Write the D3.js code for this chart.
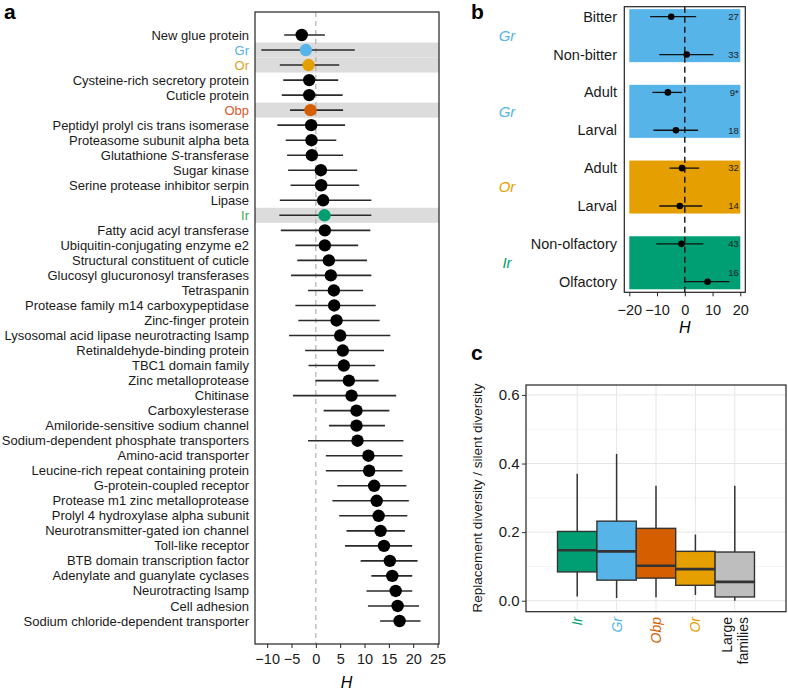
<!DOCTYPE html>
<html><head><meta charset="utf-8">
<script src="https://cdn.jsdelivr.net/npm/d3@7"></script>
<style>
body{margin:0;background:#fff}
text{font-family:"Liberation Sans",Arial,Helvetica,sans-serif}
</style>
</head><body>
<svg id="chart" width="788" height="692"></svg>
<script>
// ---------- Data: panel a ----------
const aLabels = ["New glue protein","Gr","Or","Cysteine-rich secretory protein","Cuticle protein","Obp",
 "Peptidyl prolyl cis trans isomerase","Proteasome subunit alpha beta","Glutathione S-transferase","Sugar kinase",
 "Serine protease inhibitor serpin","Lipase","Ir","Fatty acid acyl transferase","Ubiquitin-conjugating enzyme e2",
 "Structural constituent of cuticle","Glucosyl glucuronosyl transferases","Tetraspanin","Protease family m14 carboxypeptidase",
 "Zinc-finger protein","Lysosomal acid lipase neurotracting lsamp","Retinaldehyde-binding protein","TBC1 domain family",
 "Zinc metalloprotease","Chitinase","Carboxylesterase","Amiloride-sensitive sodium channel","Sodium-dependent phosphate transporters",
 "Amino-acid transporter","Leucine-rich repeat containing protein","G-protein-coupled receptor","Protease m1 zinc metalloprotease",
 "Prolyl 4 hydroxylase alpha subunit","Neurotransmitter-gated ion channel","Toll-like receptor","BTB domain transcription factor",
 "Adenylate and guanylate cyclases","Neurotracting lsamp","Cell adhesion","Sodium chloride-dependent transporter"];
const aH  = [-2.9,-2.05,-1.5,-1.37,-1.37,-1.1,-0.96,-0.9,-0.82,1.03,1.1,1.5,1.78,1.85,1.85,2.67,3.08,3.7,3.76,4.25,5.0,5.54,5.75,6.78,7.33,8.35,8.35,8.56,10.8,10.95,11.98,12.5,12.9,13.3,14.0,15.2,15.7,16.4,16.8,17.2];
const aLo = [-6.5,-11.2,-7.4,-6.7,-7.0,-5.3,-7.9,-6.2,-5.9,-5.7,-5.2,-7.4,-7.5,-7.2,-4.2,-3.8,-5.1,-1.6,-4.2,-3.6,-5.5,-2.2,-1.5,-0.1,-4.7,1.6,2.7,-1.6,2.05,2.05,4.4,3.4,4.8,6.3,6.0,9.2,11.4,10.4,10.7,13.2];
const aHi = [1.85,8.0,4.8,4.6,5.5,5.6,6.0,4.2,5.6,8.5,8.9,11.4,11.4,11.2,8.7,10.5,11.4,9.7,12.3,13.1,15.3,14.0,12.2,12.9,16.5,15.1,14.2,18.0,17.8,17.8,18.6,19.1,18.8,18.3,19.8,20.9,19.8,19.8,21.2,21.5];
const aTicks = [-10,-5,0,5,10,15,20,25];

// ---------- Data: panel b ----------
const bLabels = ["Bitter","Non-bitter","Adult","Larval","Adult","Larval","Non-olfactory","Olfactory"];
const bFamily = ["Gr","Gr","Gr","Gr","Or","Or","Ir","Ir"];
const bH  = [-4.9,0.7,-6.1,-3.2,-1.0,-1.8,-1.2,8.2];
const bLo = [-12.5,-9.2,-11.7,-11.3,-5.5,-9.2,-10.3,-0.25];
const bHi = [4.1,10.3,-0.9,4.8,5.2,6.3,6.7,16.1];
const bN  = ["27","33","9*","18","32","14","43","16"];
const bTicks = [-20,-10,0,10,20];

// ---------- Data: panel c ----------
const cCats = ["Ir","Gr","Obp","Or","Large families"];
const cLow  = [0.012,0.008,0.010,0.017,0.0];
const cQ1   = [0.084,0.060,0.066,0.045,0.011];
const cMed  = [0.147,0.144,0.102,0.092,0.055];
const cQ3   = [0.202,0.232,0.211,0.144,0.142];
const cHigh = [0.370,0.428,0.335,0.193,0.335];
const cTicks = [0,0.2,0.4,0.6];

const famColor = {Gr:"#56B4E9", Or:"#E69F00", Obp:"#D55E00", Ir:"#009E73", "Large families":"#BEBEBE"};
const aTextColor = {Gr:"#4FB0E6", Or:"#D9A21E", Obp:"#E0552A", Ir:"#3DAA4E"};
const fmtMinus = d => d < 0 ? "\u2212" + Math.abs(d) : String(d);

const svg = d3.select("#chart");

// ================= Panel a =================
{
  const L = 255, R = 439, T = 12, B = 644;
  const x = d3.scaleLinear().domain([-12.5, 25.3]).range([L, R]);
  const y = d3.scalePoint().domain(d3.range(aLabels.length)).range([35, 621]);
  const step = y.step();
  const g = svg.append("g");

  aLabels.forEach((lab, i) => {
    if (aTextColor[lab]) {
      g.append("rect").attr("x", L).attr("width", R - L)
        .attr("y", y(i) - step / 2).attr("height", step).attr("fill", "#dcdcdc");
    }
  });
  g.append("line").attr("x1", x(0)).attr("x2", x(0)).attr("y1", T).attr("y2", B)
    .attr("stroke", "#b0b0b0").attr("stroke-width", 1.2).attr("stroke-dasharray", "5,4");
  g.selectAll(".eb").data(aLabels).join("line")
    .attr("x1", (d, i) => x(aLo[i])).attr("x2", (d, i) => x(aHi[i]))
    .attr("y1", (d, i) => y(i)).attr("y2", (d, i) => y(i))
    .attr("stroke", "#2a2a2a").attr("stroke-width", 1.6);
  g.selectAll(".pt").data(aLabels).join("circle")
    .attr("cx", (d, i) => x(aH[i])).attr("cy", (d, i) => y(i)).attr("r", 6.2)
    .attr("fill", d => famColor[d] || "#000");
  g.append("rect").attr("x", L).attr("y", T).attr("width", R - L).attr("height", B - T)
    .attr("fill", "none").attr("stroke", "#222").attr("stroke-width", 1.2);
  const lab = g.selectAll(".lab").data(aLabels).join("text")
    .attr("x", L - 6).attr("y", (d, i) => y(i)).attr("dy", "0.35em")
    .attr("text-anchor", "end").attr("font-size", 13)
    .attr("fill", d => aTextColor[d] || "#1a1a1a");
  lab.each(function(d) {
    const t = d3.select(this);
    if (d === "Glutathione S-transferase") {
      t.append("tspan").text("Glutathione ");
      t.append("tspan").attr("font-style", "italic").text("S");
      t.append("tspan").text("-transferase");
    } else t.text(d);
  });
  const ax = g.append("g").attr("transform", `translate(0,${B})`)
    .call(d3.axisBottom(x).tickValues(aTicks).tickSize(4).tickPadding(6).tickFormat(fmtMinus));
  ax.select(".domain").remove();
  ax.selectAll("line").attr("stroke", "#222");
  ax.selectAll("text").attr("font-size", 14.5).attr("fill", "#1a1a1a").attr("font-family", '"Liberation Sans",Arial,sans-serif');
  g.append("text").attr("x", x(6.3)).attr("y", 688).attr("text-anchor", "middle")
    .attr("font-size", 16).attr("font-style", "italic").text("H");
  svg.append("text").attr("x", 4).attr("y", 19).attr("font-size", 21).attr("font-weight", "bold").text("a");
}

// ================= Panel b =================
{
  const L = 624.3, R = 745.3, T = 6.7, B = 292.3;
  const x = d3.scaleLinear().domain([-21.8, 21.8]).range([L, R]);
  const y = d3.scalePoint().domain(d3.range(bLabels.length)).range([16.7, 281.7]);
  const step = y.step();
  const g = svg.append("g");
  for (let k = 0; k < bLabels.length; k += 2) {
    g.append("rect").attr("x", x(-20)).attr("width", x(20) - x(-20))
      .attr("y", y(k) - 0.2 * step).attr("height", y(k + 1) - y(k) + 0.4 * step)
      .attr("fill", famColor[bFamily[k]]);
    g.append("text").attr("x", 507).attr("y", (y(k) + y(k + 1)) / 2).attr("dy", "0.35em")
      .attr("text-anchor", "middle").attr("font-size", 15).attr("font-style", "italic")
      .attr("fill", famColor[bFamily[k]]).text(bFamily[k]);
  }
  g.append("line").attr("x1", x(0)).attr("x2", x(0)).attr("y1", T).attr("y2", B)
    .attr("stroke", "#111").attr("stroke-width", 1.4).attr("stroke-dasharray", "6,4");
  g.selectAll(".eb").data(bLabels).join("line")
    .attr("x1", (d, i) => x(bLo[i])).attr("x2", (d, i) => x(bHi[i]))
    .attr("y1", (d, i) => y(i)).attr("y2", (d, i) => y(i))
    .attr("stroke", "#111").attr("stroke-width", 1.3);
  g.selectAll(".pt").data(bLabels).join("circle")
    .attr("cx", (d, i) => x(bH[i])).attr("cy", (d, i) => y(i)).attr("r", 3.3).attr("fill", "#000");
  g.selectAll(".n").data(bN).join("text")
    .attr("x", x(20) - 1.5).attr("y", (d, i) => y(i) - (bHi[i] > 14 ? 9 : 0)).attr("dy", "0.35em")
    .attr("text-anchor", "end").attr("font-size", 9.5).attr("fill", "#222").text(d => d);
  g.append("rect").attr("x", L).attr("y", T).attr("width", R - L).attr("height", B - T)
    .attr("fill", "none").attr("stroke", "#222").attr("stroke-width", 1.2);
  g.selectAll(".lab").data(bLabels).join("text")
    .attr("x", 617).attr("y", (d, i) => y(i)).attr("dy", "0.35em")
    .attr("text-anchor", "end").attr("font-size", 14.5).attr("fill", "#1a1a1a").text(d => d);
  const ax = g.append("g").attr("transform", `translate(0,${B})`)
    .call(d3.axisBottom(x).tickValues(bTicks).tickSize(4).tickPadding(8).tickFormat(fmtMinus));
  ax.select(".domain").remove();
  ax.selectAll("line").attr("stroke", "#222");
  ax.selectAll("text").attr("font-size", 14.5).attr("fill", "#1a1a1a").attr("font-family", '"Liberation Sans",Arial,sans-serif');
  g.append("text").attr("x", x(0)).attr("y", 333).attr("text-anchor", "middle")
    .attr("font-size", 16).attr("font-style", "italic").text("H");
  svg.append("text").attr("x", 471).attr("y", 19).attr("font-size", 21).attr("font-weight", "bold").text("b");
}

// ================= Panel c =================
{
  const L = 526, R = 786, T = 385, B = 611.7;
  const y = d3.scaleLinear().domain([-0.032, 0.629]).range([B, T]);
  const x = d3.scalePoint().domain(cCats).range([L, R]).padding(1.3);
  const bw = x.step();
  const g = svg.append("g");
  [0.1, 0.3, 0.5].forEach(v => g.append("line").attr("x1", L).attr("x2", R).attr("y1", y(v)).attr("y2", y(v))
    .attr("stroke", "#f3f3f3").attr("stroke-width", 0.8));
  cTicks.forEach(v => g.append("line").attr("x1", L).attr("x2", R).attr("y1", y(v)).attr("y2", y(v))
    .attr("stroke", "#e6e6e6").attr("stroke-width", 1));
  cCats.forEach(c => g.append("line").attr("x1", x(c)).attr("x2", x(c)).attr("y1", T).attr("y2", B)
    .attr("stroke", "#e6e6e6").attr("stroke-width", 1));
  g.selectAll(".wh").data(cCats).join("line")
    .attr("x1", d => x(d)).attr("x2", d => x(d))
    .attr("y1", (d, i) => y(cLow[i])).attr("y2", (d, i) => y(cHigh[i]))
    .attr("stroke", "#333").attr("stroke-width", 1.5);
  g.selectAll(".bx").data(cCats).join("rect")
    .attr("x", d => x(d) - bw / 2).attr("width", bw)
    .attr("y", (d, i) => y(cQ3[i])).attr("height", (d, i) => y(cQ1[i]) - y(cQ3[i]))
    .attr("fill", d => famColor[d]).attr("stroke", "#333").attr("stroke-width", 1.4);
  g.selectAll(".md").data(cCats).join("line")
    .attr("x1", d => x(d) - bw / 2).attr("x2", d => x(d) + bw / 2)
    .attr("y1", (d, i) => y(cMed[i])).attr("y2", (d, i) => y(cMed[i]))
    .attr("stroke", "#333").attr("stroke-width", 2.6);
  g.append("rect").attr("x", L).attr("y", T).attr("width", R - L).attr("height", B - T)
    .attr("fill", "none").attr("stroke", "#222").attr("stroke-width", 1.2);
  const ay = g.append("g").attr("transform", `translate(${L},0)`)
    .call(d3.axisLeft(y).tickValues(cTicks).tickSize(4).tickPadding(2.5).tickFormat(d3.format(".1f")));
  ay.select(".domain").remove();
  ay.selectAll("line").attr("stroke", "#333");
  ay.selectAll("text").attr("font-size", 15).attr("fill", "#1a1a1a").attr("font-family", '"Liberation Sans",Arial,sans-serif');
  cCats.forEach(c => {
    if (c === "Large families") {
      const parts = c.split(" ");
      parts.forEach((p, j) => {
        g.append("text").attr("transform", `translate(${x(c) + (j === 0 ? -3 : 13)},617) rotate(-90)`)
          .attr("text-anchor", "end").attr("font-size", 14).attr("fill", "#1a1a1a").text(p);
      });
    } else {
      g.append("text").attr("transform", `translate(${x(c) + 5},617) rotate(-90)`)
        .attr("text-anchor", "end").attr("font-size", 14).attr("font-style", "italic")
        .attr("fill", famColor[c]).text(c);
    }
  });
  g.append("text").attr("transform", `translate(482,498) rotate(-90)`).attr("text-anchor", "middle")
    .attr("font-size", 13.5).attr("fill", "#1a1a1a").text("Replacement diversity / silent diversity");
  svg.append("text").attr("x", 471).attr("y", 360).attr("font-size", 21).attr("font-weight", "bold").text("c");
}
</script>
</body></html>
